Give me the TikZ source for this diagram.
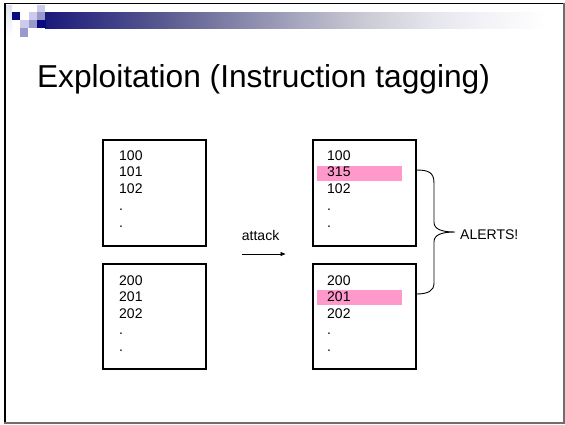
\documentclass[tikz,border=0pt]{standalone}
\usepackage{fontspec}
\setmainfont{Liberation Sans}
\usetikzlibrary{arrows.meta}

% header bar: navy fading to white (stops between 25bp and 75bp)
\pgfdeclarehorizontalshading{hdrbar}{100bp}{%
  rgb(0bp)=(0.10,0.10,0.48);
  rgb(25bp)=(0.10,0.10,0.48);
  rgb(27.2bp)=(0.15,0.15,0.50);
  rgb(37.2bp)=(0.36,0.36,0.57);
  rgb(43.8bp)=(0.51,0.51,0.66);
  rgb(50.5bp)=(0.66,0.66,0.75);
  rgb(57.2bp)=(0.80,0.80,0.84);
  rgb(63.8bp)=(0.90,0.90,0.93);
  rgb(68.8bp)=(0.95,0.95,0.97);
  rgb(75bp)=(1,1,1);
  rgb(100bp)=(1,1,1)}

\definecolor{navy}{RGB}{10,10,128}
\definecolor{lavlight}{RGB}{204,204,234}
\definecolor{lavmid}{RGB}{153,153,204}
\definecolor{hlpink}{RGB}{255,153,204}
\definecolor{framegray}{RGB}{110,110,110}

\tikzset{
  membox/.style={draw=black, line width=2pt, minimum width=103pt,
    minimum height=105.5pt, anchor=north west, outer sep=0pt, inner sep=0pt},
  cell/.style={anchor=base west, inner sep=0pt, font=\fontsize{14}{16.8}\selectfont},
  label/.style={anchor=base west, inner sep=0pt, font=\fontsize{14}{16.8}\selectfont},
  hl/.style={fill=hlpink, draw=none},
  sq/.style={draw=none},
}

\begin{document}
\begin{tikzpicture}[x=1pt, y=-1pt]
\useasboundingbox (0,0) rectangle (565,424);
\fill[white] (0,0) rectangle (565,424);

% slide frame: dark top/left, gray right/bottom
\draw[black, line width=2pt] (5,3) -- (5,424);
\draw[black, line width=1.5pt] (4,3.7) -- (565,3.7);
\draw[framegray, line width=1.5pt] (564,3) -- (564,424);
\draw[framegray, line width=1.5pt] (4,423) -- (565,423);

% header decoration
\shade[top color=lavlight!60, bottom color=white] (6,5) rectangle (12,36);
\shade[shading=hdrbar] (45,12) rectangle (546,28);
\fill[navy] (12,12) rectangle (20,20);
\fill[lavlight] (29,12) rectangle (37,20);
\fill[lavlight] (37,5) rectangle (45,12);
\fill[lavmid] (37,12) rectangle (45,20);
\fill[navy] (37,20) rectangle (45.5,28);
\fill[lavlight] (20,20) rectangle (29,28);
\fill[lavmid] (29,20) rectangle (37,28);
\fill[lavmid] (20,28) rectangle (28,37);

% title
\node[anchor=base, inner sep=0pt, font=\fontsize{31.7}{38}\selectfont]
  (title) at (263.5,87) {Exploitation (Instruction tagging)};

% highlighted (tagged) rows in the attacked memory
\fill[hl] (317,166) rectangle (402,180.5);
\fill[hl] (317,290) rectangle (402,304.5);

% memory boxes
\node[membox] (lt) at (103,140) {};
\node[membox] (lb) at (103,263.5) {};
\node[membox] (rt) at (313,140) {};
\node[membox] (rb) at (313,263.5) {};

% contents
\foreach \t [count=\i from 0] in {100,101,102,.,.}
  \node[cell] (lt\i) at (119,160+16.8*\i) {\t};
\foreach \t [count=\i from 0] in {200,201,202,.,.}
  \node[cell] (lb\i) at (119,285+16.6*\i) {\t};
\foreach \t [count=\i from 0] in {100,315,102,.,.}
  \node[cell] (rt\i) at (327,160+16.8*\i) {\t};
\foreach \t [count=\i from 0] in {200,201,202,.,.}
  \node[cell] (rb\i) at (327,285+16.6*\i) {\t};

% attack arrow
\node[label] (atk) at (241.7,240) {attack};
\coordinate (atkA) at (241.7,254);
\coordinate (atkB) at (285.5,254);
\draw[line width=0.8pt, -{Triangle[length=5pt,width=4pt]}] (atkA) -- (atkB);

% brace grouping the two alerts
\coordinate (brTop) at (416,170);
\coordinate (brBot) at (416,294);
\coordinate (brTip) at (455,232);
\draw[line width=0.9pt]
  (brTop) .. controls (428,170) and (434,172) .. (434,183)
  -- (434,222) .. controls (434,229) and (441,232) .. (brTip)
  .. controls (441,232) and (434,235) .. (434,242)
  -- (434,283) .. controls (434,291) and (428,294) .. (brBot);
\node[label] (alerts) at (460,239) {ALERTS!};
\end{tikzpicture}
\end{document}
